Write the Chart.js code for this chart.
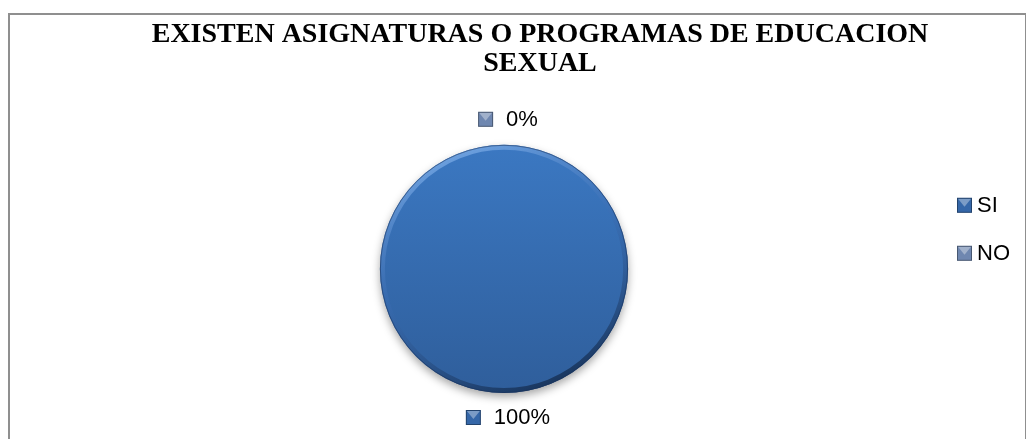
<!DOCTYPE html>
<html lang="es">
<head>
  <meta charset="UTF-8">
  <title>Educacion sexual</title>
  <script src="https://cdn.jsdelivr.net/npm/chart.js"></script>
  <style>
    html, body { margin: 0; padding: 0; background: #fff; overflow: hidden; }
    .frame { position: absolute; left: 8px; top: 13px; width: 1015px; height: 500px; border: 2px solid #8f8f8f; }
    .wrap { position: absolute; left: 0; top: 0; width: 1026px; height: 439px; }
  </style>
</head>
<body>
  <div class="frame"></div>
  <div class="wrap"><canvas id="pieChart"></canvas></div>
  <script>
    const categories = ['SI', 'NO'];
    const values = [100, 0];
    const sliceColors = ['#3567a8', '#6f87b0'];
    const titleLines = ['EXISTEN ASIGNATURAS O PROGRAMAS DE EDUCACION', 'SEXUAL'];

    const labelFont = '22px "Liberation Sans", Arial, sans-serif';

    // little bevelled square like the office legend key
    function drawKey(ctx, x, y, color) {
      const s = 15;
      ctx.save();
      ctx.fillStyle = color;
      ctx.fillRect(x, y, s, s);
      ctx.fillStyle = 'rgba(255,255,255,0.35)';
      ctx.beginPath();
      ctx.moveTo(x + 1, y + 1);
      ctx.lineTo(x + s - 1, y + 1);
      ctx.lineTo(x + s / 2, y + s * 0.6);
      ctx.closePath();
      ctx.fill();
      ctx.strokeStyle = 'rgba(0,0,0,0.35)';
      ctx.lineWidth = 1;
      ctx.strokeRect(x + 0.5, y + 0.5, s - 1, s - 1);
      ctx.restore();
    }

    // right hand box: takes room from the chart area (not the title) and draws the legend
    const legendBox = {
      id: 'legendBox',
      beforeInit(chart) {
        const box = {
          position: 'right',
          weight: 500,
          fullSize: false,
          options: {},
          isHorizontal() { return false; },
          update(maxWidth, maxHeight) {
            this.width = 72;
            this.height = maxHeight;
          },
          draw() {
            const ctx = chart.ctx;
            ctx.save();
            ctx.font = labelFont;
            ctx.textBaseline = 'middle';
            ctx.fillStyle = '#000';
            chart.data.labels.forEach((lab, i) => {
              const y = this.top + 61 + i * 48;
              drawKey(ctx, this.left + 3, y - 8, sliceColors[i]);
              ctx.fillText(lab, this.left + 23, y);
            });
            ctx.restore();
          }
        };
        Chart.layouts.addBox(chart, box);
      }
    };

    const pieShadow = {
      id: 'pieShadow',
      beforeDatasetsDraw(chart) {
        const ctx = chart.ctx;
        ctx.save();
        ctx.shadowColor = 'rgba(0,0,0,0.35)';
        ctx.shadowBlur = 9;
        ctx.shadowOffsetY = 4;
      },
      afterDatasetsDraw(chart) {
        chart.ctx.restore();
        // bevel rim on the pie edge
        const ctx = chart.ctx;
        const arc = chart.getDatasetMeta(0).data[0];
        const p = arc.getProps(['x', 'y', 'outerRadius'], true);
        const g = ctx.createLinearGradient(p.x - p.outerRadius * 0.4, p.y - p.outerRadius, p.x + p.outerRadius * 0.4, p.y + p.outerRadius);
        g.addColorStop(0, 'rgba(120,170,230,0.9)');
        g.addColorStop(0.45, 'rgba(60,110,180,0.4)');
        g.addColorStop(1, 'rgba(20,45,80,0.9)');
        ctx.save();
        ctx.beginPath();
        ctx.arc(p.x, p.y, p.outerRadius - 2.5, 0, Math.PI * 2);
        ctx.strokeStyle = g;
        ctx.lineWidth = 5;
        ctx.stroke();
        ctx.beginPath();
        ctx.arc(p.x, p.y, p.outerRadius - 0.5, 0, Math.PI * 2);
        ctx.strokeStyle = 'rgba(25,50,90,0.55)';
        ctx.lineWidth = 1;
        ctx.stroke();
        ctx.restore();
      }
    };

    const outsideLabels = {
      id: 'outsideLabels',
      afterDraw(chart) {
        const ctx = chart.ctx;
        const meta = chart.getDatasetMeta(0);
        const data = chart.data.datasets[0].data;
        const total = data.reduce((a, b) => a + b, 0);
        ctx.save();
        ctx.font = labelFont;
        ctx.textBaseline = 'middle';
        ctx.fillStyle = '#000';
        meta.data.forEach((arc, i) => {
          const p = arc.getProps(['x', 'y', 'startAngle', 'endAngle', 'outerRadius'], true);
          const mid = (p.startAngle + p.endAngle) / 2;
          const r = p.outerRadius + 25;
          const cx = p.x + Math.cos(mid) * r;
          const cy = p.y + Math.sin(mid) * r;
          const text = Math.round(data[i] / total * 100) + '%';
          const w = 15 + 13 + ctx.measureText(text).width;
          const left = cx - w / 2 + 4;
          drawKey(ctx, left, cy - 8, sliceColors[i]);
          ctx.textAlign = 'left';
          ctx.fillText(text, left + 28, cy);
        });
        ctx.restore();
      }
    };

    function sliceFill(context) {
      const chart = context.chart;
      const area = chart.chartArea;
      if (!area || context.dataIndex !== 0) return sliceColors[context.dataIndex];
      const g = chart.ctx.createLinearGradient(0, area.top, 0, area.bottom);
      g.addColorStop(0, '#3b78c2');
      g.addColorStop(1, '#2f5e9b');
      return g;
    }

    new Chart(document.getElementById('pieChart'), {
      type: 'pie',
      data: {
        labels: categories,
        datasets: [{
          data: values,
          backgroundColor: sliceFill,
          borderWidth: 0
        }]
      },
      options: {
        responsive: true,
        maintainAspectRatio: false,
        animation: false,
        layout: { padding: { left: 54, right: 0, top: 0, bottom: 46 } },
        plugins: {
          legend: { display: false },
          tooltip: { enabled: false },
          title: {
            display: true,
            text: titleLines,
            color: '#000',
            font: { family: '"Liberation Serif", "Times New Roman", serif', size: 28, weight: 'bold', lineHeight: 1.05 },
            padding: { top: 20, bottom: 66 }
          }
        }
      },
      plugins: [legendBox, pieShadow, outsideLabels]
    });
  </script>
</body>
</html>
